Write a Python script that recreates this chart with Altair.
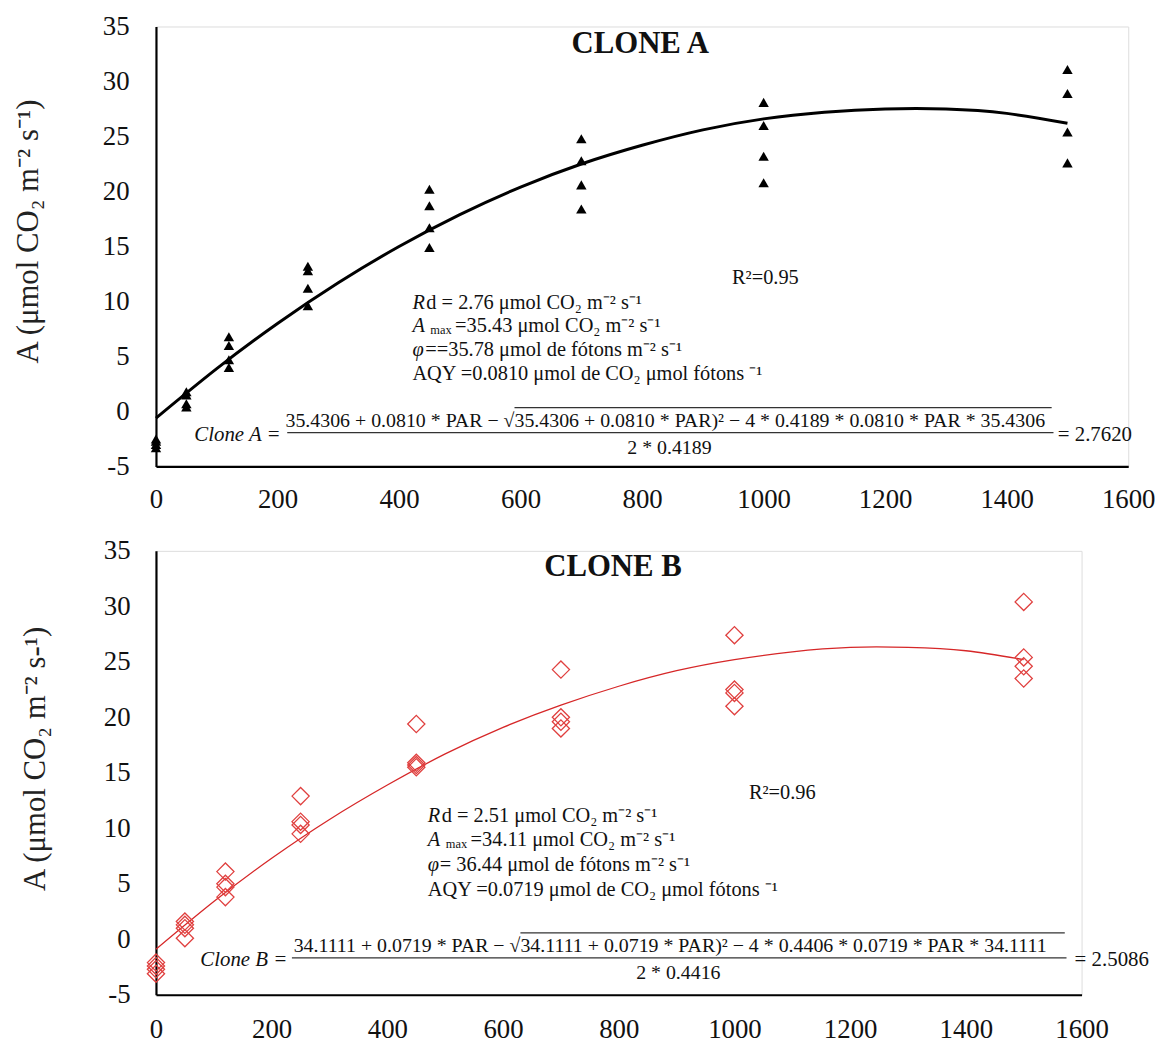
import altair as alt
import pandas as pd

# ---------------- data ----------------
PAR_LEVELS = [0, 50, 120, 250, 450, 700, 1000, 1500]

CLONE_A_REPS = [
    [-2.5, -2.7, -3.0, -3.3],
    [1.8, 1.5, 0.7, 0.4],
    [6.8, 6.0, 4.7, 4.0],
    [13.2, 12.8, 11.2, 9.6],
    [20.2, 18.7, 16.7, 14.9],
    [24.8, 22.8, 20.6, 18.4],
    [28.1, 26.0, 23.2, 20.8],
    [31.1, 28.9, 25.4, 22.6],
]

CLONE_B_REPS = [
    [-2.1, -2.4, -2.7, -3.1],
    [1.6, 1.3, 1.0, 0.1],
    [6.1, 5.0, 4.7, 3.8],
    [12.9, 10.6, 10.3, 9.5],
    [19.4, 15.9, 15.7, 15.5],
    [24.3, 20.0, 19.6, 19.0],
    [27.4, 22.5, 22.2, 21.0],
    [30.4, 25.4, 24.6, 23.5],
]

FIT_PAR = [0, 100, 200, 300, 400, 500, 600, 700, 800, 900, 1000, 1100, 1200, 1300, 1400, 1500]
FIT_A = [-0.6, 3.9, 8.0, 11.7, 15.0, 17.9, 20.4, 22.5, 24.2, 25.6, 26.6, 27.2, 27.5, 27.5, 27.1, 26.2]
FIT_B = [-0.9, 3.4, 7.3, 10.8, 13.9, 16.7, 19.1, 21.1, 22.8, 24.2, 25.2, 25.9, 26.3, 26.3, 26.0, 25.2]

X_TICKS = [0, 200, 400, 600, 800, 1000, 1200, 1400, 1600]
Y_TICKS = [-5, 0, 5, 10, 15, 20, 25, 30, 35]

SERIF = "Liberation Serif"
ONE = alt.Data(values=[{"k": 0}])


def points_df(reps):
    rows = []
    for par, vals in zip(PAR_LEVELS, reps):
        for v in vals:
            rows.append({"PAR": par, "A": v})
    return pd.DataFrame(rows)


def txt(x, y, s, size=20.5, italic=False, bold=False, align="left", dx=0, dy=0, font=SERIF):
    return alt.Chart(ONE).mark_text(
        text=s, font=font, fontSize=size,
        fontStyle="italic" if italic else "normal",
        fontWeight="bold" if bold else "normal",
        align=align, baseline="middle", dx=dx, dy=dy, color="#111",
    ).encode(x=alt.datum(x), y=alt.datum(y))


def hrule(x1, x2, y, width=1.2, color="#333"):
    return alt.Chart(ONE).mark_rule(color=color, strokeWidth=width).encode(
        x=alt.datum(x1), x2=alt.datum(x2), y=alt.datum(y)
    )


def panel(reps, fit, shape, filled, color, size, line_color, line_width,
          ytitle, title, title_xy, r2, r2_xy, block_xy, block_dy, lines, eq, w, h,
          ylabelpad, ytitlepad, xlabelpad, title_y):
    xenc = alt.X("PAR:Q", title=None,
                 scale=alt.Scale(domain=[0, 1600], nice=False, zero=False),
                 axis=alt.Axis(values=X_TICKS, ticks=False, grid=False, labelPadding=xlabelpad,
                               domainColor="#000", domainWidth=2.2, labelFont=SERIF,
                               labelFontSize=27, labelColor="#111", labelFlush=False,
                               labelExpr="'' + datum.value"))
    yenc = alt.Y("A:Q", title=ytitle,
                 scale=alt.Scale(domain=[-5, 35], nice=False, zero=False),
                 axis=alt.Axis(values=Y_TICKS, ticks=False, grid=False, labelPadding=ylabelpad,
                               domainColor="#000", domainWidth=2.2, labelFont=SERIF,
                               labelFontSize=27, labelColor="#111", titleFont=SERIF,
                               titleFontSize=31, titleFontWeight="normal", titleColor="#222",
                               titlePadding=ytitlepad, titleY=title_y, labelFlush=False,
                               labelExpr="'' + datum.value"))

    fit_df = pd.DataFrame({"PAR": FIT_PAR, "A": fit})
    line = alt.Chart(fit_df).mark_line(color=line_color, strokeWidth=line_width,
                                       interpolate="natural").encode(x=xenc, y=yenc)
    if filled:
        pts = alt.Chart(points_df(reps)).mark_point(
            shape=shape, filled=True, color=color, size=size, opacity=1
        ).encode(x=xenc, y=yenc)
    else:
        pts = alt.Chart(points_df(reps)).mark_point(
            shape=shape, filled=False, color=color, size=size, strokeWidth=1.3, opacity=1
        ).encode(x=xenc, y=yenc)

    layers = [line, pts]
    layers.append(txt(title_xy[0], title_xy[1], title, size=31, bold=True, align="center"))
    layers.append(txt(r2_xy[0], r2_xy[1], r2, size=20.5))

    bx, by = block_xy
    for i, parts in enumerate(lines):
        yy = by - i * block_dy
        for (s, italic, size, dx, dy) in parts:
            layers.append(txt(bx, yy, s, size=size, italic=italic, dx=dx, dy=dy))

    # equation
    layers.append(txt(eq["lab_x"], eq["lab_y"], eq["label"], size=21, italic=True, align="right"))
    layers.append(txt(eq["split_x"], eq["num_y"], eq["num_left"], size=20, align="right"))
    layers.append(txt(eq["split_x"], eq["num_y"], eq["num_right"], size=20, align="left"))
    layers.append(hrule(eq["bar_x1"], eq["bar_x2"], eq["bar_y"], width=1.2))
    layers.append(hrule(eq["split_x"], eq["ov_x2"], eq["ov_y"], width=1.2))
    layers.append(txt(eq["den_x"], eq["den_y"], eq["den"], size=20, align="center"))
    layers.append(txt(eq["res_x"], eq["lab_y"], eq["res"], size=21, align="left"))

    return alt.layer(*layers).properties(width=w, height=h)


lines_a = [
    [("R", True, 20.5, 0, 0), ("d = 2.76 μmol CO₂ m⁻² s⁻¹", False, 20.5, 14, 0)],
    [("A", True, 20.5, 0, 0), ("max", False, 12.5, 18, 4), ("=35.43 μmol CO₂ m⁻² s⁻¹", False, 20.5, 43, 0)],
    [("φ", True, 20.5, 0, 0), ("==35.78 μmol de fótons m⁻² s⁻¹", False, 20.5, 13, 0)],
    [("AQY =0.0810 μmol de CO₂ μmol fótons ⁻¹", False, 20.5, 0, 0)],
]
lines_b = [
    [("R", True, 20.5, 0, 0), ("d = 2.51 μmol CO₂ m⁻² s⁻¹", False, 20.5, 14, 0)],
    [("A", True, 20.5, 0, 0), ("max", False, 12.5, 18, 4), ("=34.11 μmol CO₂ m⁻² s⁻¹", False, 20.5, 43, 0)],
    [("φ", True, 20.5, 0, 0), ("= 36.44 μmol de fótons m⁻² s⁻¹", False, 20.5, 12, 0)],
    [("AQY =0.0719 μmol de CO₂ μmol fótons ⁻¹", False, 20.5, 0, 0)],
]

eq_a = dict(
    label="Clone A =", lab_x=205, lab_y=-2.1,
    num_left="35.4306 + 0.0810 * PAR − √",
    num_right="35.4306 + 0.0810 * PAR)² − 4 * 0.4189 * 0.0810 * PAR * 35.4306",
    split_x=590, num_y=-0.85,
    den="2 * 0.4189", den_x=845, den_y=-3.3,
    bar_x1=216, bar_x2=1477, bar_y=-1.93,
    ov_x2=1474, ov_y=0.35,
    res="= 2.7620", res_x=1484,
)
eq_b = dict(
    label="Clone B =", lab_x=227, lab_y=-1.85,
    num_left="34.1111 + 0.0719 * PAR − √",
    num_right="34.1111 + 0.0719 * PAR)² − 4 * 0.4406 * 0.0719 * PAR * 34.1111",
    split_x=630, num_y=-0.6,
    den="2 * 0.4416", den_x=903, den_y=-3.0,
    bar_x1=235, bar_x2=1574, bar_y=-1.67,
    ov_x2=1571, ov_y=0.58,
    res="= 2.5086", res_x=1588,
)

top = panel(CLONE_A_REPS, FIT_A, "triangle-up", True, "#000", 110, "#000", 3,
            "A (μmol CO₂ m⁻² s⁻¹)", "CLONE A", (797, 33.4), "R²=0.95", (948, 12.1),
            (422, 9.9), 2.17, lines_a, eq_a, 979, 443, 27, 58, 20, 206)
bottom = panel(CLONE_B_REPS, FIT_B, "diamond", False, "#E0403F", 300, "#D62728", 1.3,
               "A (μmol CO₂ m⁻² s-¹)", "CLONE B", (790, 33.5), "R²=0.96", (1025, 13.2),
               (470, 11.12), 2.22, lines_b, eq_b, 932, 447, 26, 52, 22, 209)

chart = alt.vconcat(top, bottom, spacing=23).properties(
    padding={"left": 4, "top": 0, "right": 5, "bottom": 5}
).configure_view(stroke=None).configure(background="white")

chart.save("out.html", embed_options={"renderer": "svg", "actions": False})
